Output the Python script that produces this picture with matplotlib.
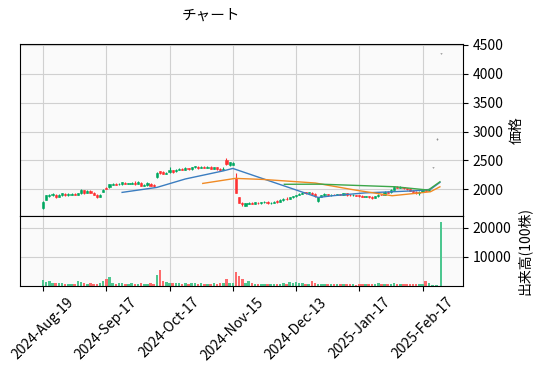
import matplotlib
matplotlib.use("Agg")
import matplotlib.pyplot as plt
import numpy as np

plt.rcParams['font.family'] = ['Noto Sans CJK JP', 'DejaVu Sans']
plt.rcParams['font.size'] = 10

# daily candles: open, high, low, close (yen), volume (100 shares)
opens = [1680, 1820, 1890, 1900, 1900, 1870, 1905, 1925, 1900, 1910,
         1915, 1900, 1930, 1985, 1940, 1975, 1940, 1910, 1870, 1960,
         2030, 2040, 2080, 2095, 2085, 2090, 2115, 2100, 2100, 2105,
         2100, 2110, 2065, 2075, 2100, 2070, 2210, 2310, 2300, 2270,
         2300, 2330, 2310, 2340, 2360, 2340, 2365, 2350, 2380, 2395,
         2375, 2390, 2375, 2390, 2360, 2380, 2350, 2340, 2510, 2420,
         2430, 2190, 1860, 1760, 1720, 1750, 1770, 1750, 1770, 1760,
         1780, 1785, 1760, 1770, 1800, 1790, 1810, 1835, 1830, 1860,
         1880, 1905, 1925, 1950, 1940, 1945, 1920, 1800, 1870, 1900,
         1915, 1900, 1910, 1905, 1915, 1910, 1935, 1905, 1900, 1900,
         1895, 1885, 1875, 1880, 1865, 1850, 1880, 1905, 1905, 1955,
         1950, 1990, 2040, 2030, 2035, 2020, 2000, 1980, 1950, 1930,
         1960, 1990, 1975, 2380, 2870, 4350]
closes = [1785, 1895, 1905, 1920, 1860, 1905, 1930, 1900, 1915, 1920,
          1905, 1930, 1990, 1935, 1980, 1945, 1910, 1860, 1905, 1985,
          2010, 2090, 2100, 2080, 2095, 2120, 2095, 2105, 2110, 2095,
          2120, 2060, 2075, 2110, 2060, 2050, 2290, 2285, 2270, 2280,
          2330, 2300, 2340, 2360, 2340, 2370, 2350, 2380, 2400, 2370,
          2390, 2375, 2395, 2360, 2380, 2350, 2330, 2360, 2440, 2470,
          2460, 1945, 1770, 1740, 1760, 1770, 1750, 1775, 1760, 1780,
          1790, 1760, 1770, 1790, 1780, 1815, 1840, 1830, 1860, 1880,
          1900, 1925, 1945, 1935, 1950, 1920, 1880, 1860, 1900, 1920,
          1895, 1910, 1905, 1915, 1910, 1935, 1900, 1900, 1905, 1890,
          1880, 1870, 1880, 1865, 1850, 1880, 1905, 1900, 1960, 1945,
          1990, 2040, 2030, 2040, 2020, 2000, 1980, 1960, 1940, 1960,
          1990, 1975, 1995, 2380, 2870, 4350]
highs = [1800, 1910, 1925, 1935, 1915, 1920, 1945, 1940, 1930, 1935,
         1930, 1945, 2000, 1995, 1995, 1985, 1955, 1920, 1915, 2000,
         2040, 2100, 2110, 2105, 2105, 2130, 2125, 2115, 2130, 2140,
         2140, 2120, 2090, 2120, 2110, 2085, 2300, 2320, 2310, 2295,
         2380, 2340, 2350, 2370, 2375, 2380, 2375, 2390, 2410, 2405,
         2400, 2400, 2405, 2400, 2390, 2390, 2365, 2380, 2540, 2480,
         2470, 2280, 1870, 1780, 1770, 1780, 1785, 1785, 1780, 1790,
         1800, 1795, 1780, 1800, 1810, 1830, 1850, 1870, 1870, 1890,
         1910, 1935, 1955, 1960, 1960, 1960, 1930, 1870, 1910, 1930,
         1925, 1920, 1920, 1925, 1925, 1945, 1945, 1915, 1915, 1910,
         1905, 1895, 1890, 1890, 1880, 1890, 1915, 1920, 1975, 1970,
         2000, 2060, 2055, 2050, 2045, 2030, 2010, 1990, 1965, 1970,
         2000, 2000, 2010, 2390, 2880, 4360]
lows = [1665, 1810, 1875, 1880, 1850, 1860, 1890, 1890, 1885, 1900,
        1895, 1895, 1925, 1925, 1930, 1935, 1900, 1845, 1860, 1950,
        2000, 2030, 2070, 2070, 2075, 2080, 2085, 2090, 2090, 2070,
        2090, 2050, 2055, 2065, 2050, 2040, 2200, 2270, 2260, 2260,
        2290, 2290, 2300, 2330, 2330, 2330, 2340, 2340, 2370, 2360,
        2365, 2365, 2365, 2350, 2350, 2340, 2320, 2330, 2430, 2410,
        2420, 1940, 1760, 1720, 1710, 1740, 1740, 1740, 1750, 1750,
        1770, 1750, 1745, 1760, 1770, 1785, 1800, 1820, 1825, 1850,
        1870, 1900, 1920, 1925, 1930, 1910, 1870, 1780, 1860, 1890,
        1885, 1890, 1895, 1895, 1900, 1900, 1890, 1890, 1890, 1880,
        1870, 1860, 1860, 1855, 1840, 1845, 1875, 1895, 1900, 1935,
        1945, 1985, 2020, 2020, 2010, 1990, 1970, 1950, 1920, 1900,
        1950, 1965, 1970, 2370, 2860, 4340]
volumes = [1800, 1300, 1400, 800, 900, 700, 900, 600, 500, 500,
           400, 1700, 1100, 900, 600, 700, 400, 500, 700, 1600,
           2400, 3000, 700, 600, 700, 1000, 600, 500, 700, 600,
           500, 800, 600, 500, 700, 600, 3800, 5200, 1700, 1200,
           900, 700, 700, 800, 600, 800, 600, 900, 700, 600,
           700, 600, 500, 600, 700, 600, 800, 700, 2400, 900,
           1000, 4700, 3300, 2200, 1000, 1700, 700, 600, 500, 500,
           400, 500, 400, 500, 400, 500, 700, 600, 1100, 800,
           1200, 900, 700, 500, 600, 1600, 700, 500, 600, 400,
           500, 400, 600, 500, 400, 500, 500, 400, 500, 300,
           400, 500, 400, 500, 400, 500, 700, 500, 600, 400,
           500, 900, 500, 400, 500, 400, 500, 400, 500, 600,
           500, 1700, 900, 100, 100, 22000]

# moving averages as (bar index, value) knots
ma25_idx = [25, 36, 45, 57, 60, 87, 91.5, 102, 110.5, 117.7, 122.5, 125.5]
ma25_val = [1948, 2034, 2180, 2320, 2362, 1860, 1890, 1940, 1959, 1976, 2000, 2120]
ma50_idx = [50.5, 60.8, 69.6, 86.1, 98.7, 110.4, 117.7, 122.5, 125.5]
ma50_val = [2103, 2190, 2172, 2110, 1988, 1890, 1931, 1959, 2045]
ma75_idx = [76.3, 87.7, 111.4, 121.8, 125.5]
ma75_val = [2088, 2090, 2045, 1988, 2131]

tick_pos = [0, 20, 40, 60, 80, 100, 120]
tick_labels = ['2024-Aug-19', '2024-Sep-17', '2024-Oct-17', '2024-Nov-15',
               '2024-Dec-13', '2025-Jan-17', '2025-Feb-17']

up, down, doji = '#00a861', '#fe3032', '#909090'
vup, vdown = '#4dc790', '#fd6b6c'

o = np.array(opens, float)
c = np.array(closes, float)
h = np.array(highs, float)
l = np.array(lows, float)
x = np.arange(len(o)) * 1.0
x[-3:] += [0.2, 0.5, 0.8]   # last prints sit a little apart on the chart
cols = [up if cc > oo else (down if cc < oo else doji) for oo, cc in zip(o, c)]
vcols = [vup if cc >= oo else vdown for oo, cc in zip(o, c)]

fig = plt.figure(figsize=(5.4, 3.72), dpi=100)
ax = fig.add_axes([0.037, 0.4194, 0.8204, 0.461])
axv = fig.add_axes([0.037, 0.2325, 0.8204, 0.1868], sharex=ax)

for a in (ax, axv):
    a.set_facecolor('#fafafa')
    a.grid(True, color='#d0d0d0', lw=0.8)
    a.set_axisbelow(True)
    a.yaxis.tick_right()
    a.yaxis.set_label_position('right')

ax.vlines(x, l, h, colors=cols, lw=0.8)
ax.bar(x, np.abs(c - o), bottom=np.minimum(o, c), width=0.7, color=cols,
       edgecolor=cols, lw=0.4)
ax.plot(ma25_idx, ma25_val, color='#3b7dc0', lw=1)
ax.plot(ma50_idx, ma50_val, color='#f08a24', lw=1)
ax.plot(ma75_idx, ma75_val, color='#3ca64a', lw=1)
ax.set_ylim(1540, 4505)
ax.set_yticks([2000, 2500, 3000, 3500, 4000, 4500])
ax.set_ylabel('価格')
ax.tick_params(axis='x', bottom=False, labelbottom=False)

axv.bar(x, volumes, width=0.8, color=vcols)
axv.set_ylim(0, 24000)
axv.set_yticks([10000, 20000])
axv.set_ylabel('出来高(100株)')
axv.set_xlim(-7.3, 132.8)
axv.set_xticks(tick_pos)
axv.set_xticklabels(tick_labels, rotation=45)

fig.text(0.39, 0.957, 'チャート', ha='center', va='center', fontsize=10.5)

fig.savefig('out.png', dpi=100)
